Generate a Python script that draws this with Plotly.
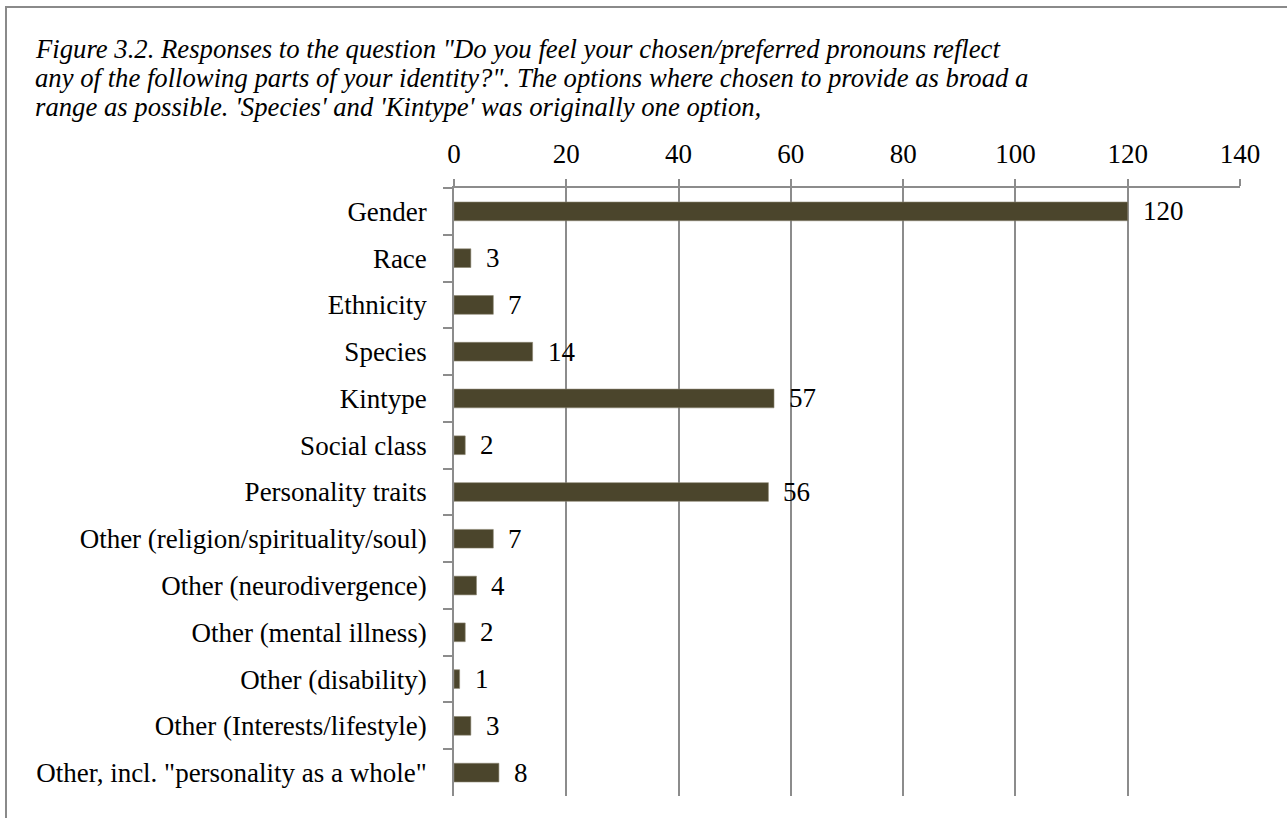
import plotly.graph_objects as go

categories = [
    "Gender", "Race", "Ethnicity", "Species", "Kintype", "Social class",
    "Personality traits", "Other (religion/spirituality/soul)",
    "Other (neurodivergence)", "Other (mental illness)", "Other (disability)",
    "Other (Interests/lifestyle)", 'Other, incl. "personality as a whole"',
]
values = [120, 3, 7, 14, 57, 2, 56, 7, 4, 2, 1, 3, 8]
tick_vals = [0, 20, 40, 60, 80, 100, 120, 140]

title_lines = [
    "Figure 3.2. Responses to the question \"Do you feel your chosen/preferred pronouns reflect",
    "any of the following parts of your identity?\". The options where chosen to provide as broad a",
    "range as possible. 'Species' and 'Kintype' was originally one option,",
]

FONT = "Liberation Serif, Times New Roman, serif"
GRID = "#8c8c8c"
BAR = "#4b452c"

W, H = 1287, 818
L, R, T, B = 454, 47, 188, 22
pw, ph = W - L - R, H - T - B


def px_x(p):
    return (p - L) / pw


def px_y(p):
    return (H - B - p) / ph


fig = go.Figure()
fig.add_trace(go.Bar(
    x=values, y=categories, orientation="h",
    marker=dict(color=BAR, line=dict(color="#8a8470", width=0.6)),
    width=0.4, hoverinfo="x+y",
))

for c, v in zip(categories, values):
    fig.add_annotation(x=v, y=c, xref="x", yref="y", text=str(v),
                       showarrow=False, xanchor="left", yanchor="middle",
                       xshift=13, font=dict(family=FONT, size=27, color="black"))

baselines = [57, 86, 115]
for line, bl in zip(title_lines, baselines):
    fig.add_annotation(x=px_x(33), y=px_y(bl - 8), xref="paper", yref="paper",
                       text="<i>" + line + "</i>", showarrow=False,
                       xanchor="left", yanchor="middle", align="left",
                       font=dict(family=FONT, size=26.7, color="black"))

# outer border (extends past right/bottom edges as in the reference)
fig.add_shape(type="rect", xref="paper", yref="paper",
              x0=px_x(6), x1=px_x(W + 20),
              y0=px_y(H + 20), y1=px_y(7),
              line=dict(color="#8a8a8a", width=2), fillcolor="rgba(0,0,0,0)")

fig.update_layout(
    width=W, height=H,
    margin=dict(l=L, r=R, t=T, b=B),
    paper_bgcolor="white", plot_bgcolor="white",
    showlegend=False,
    font=dict(family=FONT, size=27, color="black"),
    xaxis=dict(
        side="top", range=[0, 140], tickvals=tick_vals,
        showgrid=True, gridcolor=GRID, gridwidth=1.5,
        showline=True, linecolor=GRID, linewidth=1.5,
        ticks="outside", ticklen=7, tickcolor=GRID, tickwidth=1.5,
        tickfont=dict(family=FONT, size=27, color="black"),
        ticklabelstandoff=5, zeroline=False, fixedrange=True,
    ),
    yaxis=dict(
        autorange="reversed", type="category",
        showgrid=False, showline=True, linecolor=GRID, linewidth=1.5,
        ticks="outside", ticklen=9, tickcolor=GRID, tickwidth=1.5,
        tickson="boundaries",
        tickfont=dict(family=FONT, size=27, color="black"),
        ticklabelstandoff=20, fixedrange=True,
    ),
)

fig.write_html("out.html", config={"displayModeBar": False},
               post_script="document.body.style.margin='0px';")
